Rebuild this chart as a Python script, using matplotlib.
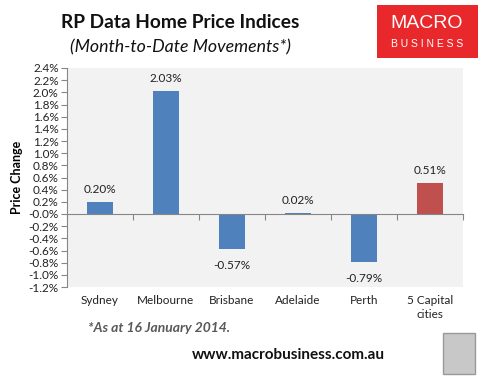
import matplotlib
matplotlib.use("Agg")
import matplotlib.pyplot as plt
import matplotlib.patches as mpatches
from matplotlib.transforms import blended_transform_factory
import numpy as np

categories = ["Sydney", "Melbourne", "Brisbane", "Adelaide", "Perth", "5 Capital\ncities"]
values = [0.20, 2.03, -0.57, 0.02, -0.79, 0.51]
bar_colors = ["#4F81BD", "#4F81BD", "#4F81BD", "#4F81BD", "#4F81BD", "#C0504D"]
yticks = np.round(np.arange(-1.2, 2.41, 0.2), 1)

plt.rcParams['font.family'] = ['Lato', 'DejaVu Sans']

W, H = 486, 376
fig = plt.figure(figsize=(W / 100, H / 100), dpi=100)
fig.patch.set_facecolor("white")

def fx(px):
    return px / W

def fy(py):
    return 1 - py / H

left, right, top, bottom = 67, 463, 68, 287
ax = fig.add_axes([fx(left), fy(bottom), fx(right - left), (bottom - top) / H])
ax.set_facecolor("#F2F2F2")

x = np.arange(len(categories))
ax.bar(x, values, width=0.4, color=bar_colors, zorder=3)
ax.set_xlim(-0.5, len(categories) - 0.5)
ax.set_ylim(-1.2, 2.4)

for s in ["top", "right"]:
    ax.spines[s].set_visible(False)
ax.spines["left"].set_color("#868686")
ax.spines["bottom"].set_position(("data", 0))
ax.spines["bottom"].set_color("#868686")
ax.spines["bottom"].set_zorder(4)

ax.set_yticks(yticks)
ax.set_yticklabels([f"{v:.1f}%" for v in yticks], fontsize=8.5, color="#222222")
ax.tick_params(axis="y", direction="out", length=4, color="#868686", pad=2)
ax.set_xticks(np.arange(-0.5, len(categories), 1.0))
ax.set_xticklabels([])
ax.tick_params(axis="x", direction="out", length=4, color="#868686")

trans = blended_transform_factory(ax.transData, ax.transAxes)
for xi, c in zip(x, categories):
    ax.text(xi, -0.035, c, transform=trans, ha="center", va="top",
            fontsize=8.5, color="#222222", linespacing=1.35)

for xi, v in zip(x, values):
    if v >= 0:
        ax.annotate(f"{v:.2f}%", (xi, v), xytext=(0, 5), textcoords="offset points",
                    ha="center", va="bottom", fontsize=8.5, color="#222222")
    else:
        ax.annotate(f"{v:.2f}%", (xi, v), xytext=(0, -8), textcoords="offset points",
                    ha="center", va="top", fontsize=8.5, color="#222222")

ax.set_ylabel("Price Change", fontsize=9, fontweight="bold", labelpad=4)

fig.text(fx(180), fy(22), "RP Data Home Price Indices", ha="center", va="center",
         fontsize=13.8, fontweight="bold", color="#111111")
fig.text(fx(180), fy(47), "(Month-to-Date Movements*)", ha="center", va="center",
         fontsize=12.8, fontstyle="italic", color="#111111")

# logo box
logo = mpatches.Rectangle((fx(377), fy(58)), fx(101), (58 - 5) / H, transform=fig.transFigure,
                          facecolor="#E8282B", edgecolor="none")
fig.patches.append(logo)
fig.text(fx(427), fy(24), "MACRO", ha="center", va="center", fontsize=14,
         color="white", family=["Liberation Sans", "DejaVu Sans"])
fig.text(fx(427), fy(44), "B U S I N E S S", ha="center", va="center", fontsize=7.5,
         color="white", family=["Liberation Sans", "DejaVu Sans"])

fig.text(fx(88), fy(328), "*As at 16 January 2014.", ha="left", va="center",
         fontsize=10, fontweight="bold", fontstyle="italic", color="#595959")
fig.text(fx(192), fy(355), "www.macrobusiness.com.au", ha="left", va="center",
         fontsize=11, fontweight="bold", color="#111111")

wolf = mpatches.Rectangle((fx(443), fy(374)), fx(32), (374 - 333) / H, transform=fig.transFigure,
                          facecolor="#C8C8C8", edgecolor="#999999", linewidth=1)
fig.patches.append(wolf)

fig.savefig("out.png", dpi=100)
